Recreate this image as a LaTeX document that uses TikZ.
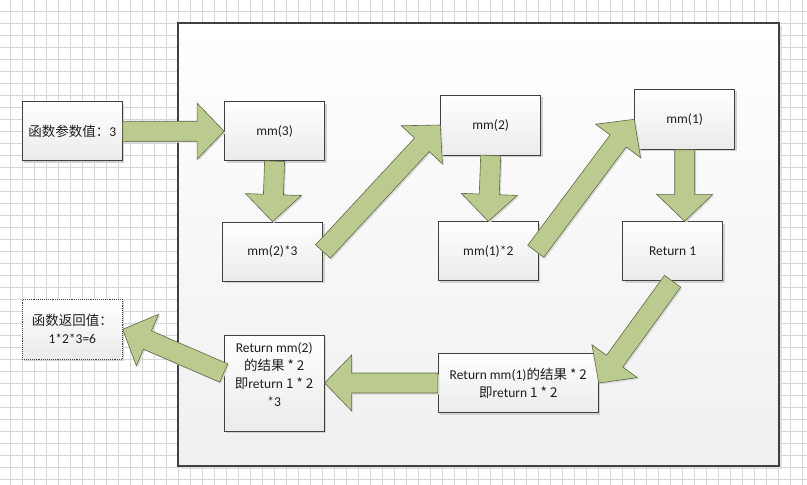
\documentclass[tikz,border=0pt]{standalone}
\usepackage{fontspec}
\setmainfont{Carlito}
\newfontfamily\cjk{Noto Sans CJK SC}
\usetikzlibrary{calc,shadows}
\definecolor{arrowfill}{RGB}{187,202,143}
\definecolor{arrowline}{RGB}{95,105,70}
\definecolor{gridc}{RGB}{214,214,214}
\definecolor{boxline}{RGB}{64,64,64}
\definecolor{txt}{RGB}{30,30,30}
\tikzset{
  boxnode/.style={draw=boxline, line width=0.9pt, top color=white, bottom color=black!8,
    minimum width=100pt, minimum height=60pt, inner sep=2pt, align=center, text=txt,
    font=\fontsize{13.5}{18}\selectfont,
    drop shadow={shadow xshift=2pt, shadow yshift=-2pt, fill=black!18, opacity=1}},
  blkarrow/.style={draw=arrowline, line width=0.6pt, fill=arrowfill, line join=miter,
    drop shadow={shadow xshift=1.5pt, shadow yshift=-1.5pt, fill=black!15, opacity=1}}
}
\newcommand{\blk}[2]{%
  \coordinate (bkN) at ($(#2)!27pt!(#1)$);
  \draw[blkarrow] ($(#1)!10pt!90:(#2)$) -- ($(bkN)!10pt!90:(#2)$) -- ($(bkN)!28pt!90:(#2)$)
    -- (#2) -- ($(bkN)!28pt!-90:(#2)$) -- ($(bkN)!10pt!-90:(#2)$) -- ($(#1)!10pt!-90:(#2)$) -- cycle;
}
\begin{document}
\begin{tikzpicture}[x=1pt,y=-1pt]
\useasboundingbox (0,0) rectangle (807,485);
\fill[white] (0,0) rectangle (807,485);
% grid
\foreach \i in {0,...,66} \draw[gridc, line width=0.9pt] ({10.7+12*\i},0) -- ({10.7+12*\i},485);
\foreach \j in {0,...,39} \draw[gridc, line width=0.9pt] (0,{11.3+12*\j}) -- (807,{11.3+12*\j});
% container
\node[draw=boxline, line width=1.1pt, top color=white, bottom color=black!6, inner sep=0pt,
  minimum width=601pt, minimum height=443pt,
  drop shadow={shadow xshift=3pt, shadow yshift=-3pt, fill=black!12, opacity=1}] (frame) at (478.5,244.5) {};
% boxes
\node[boxnode, minimum height=59pt] (in) at (72.3,131.3) {{\cjk 函数参数值：}3};
\node[boxnode, minimum height=59pt] (mm3) at (274.6,131.2) {mm(3)};
\node[boxnode, minimum height=59pt] (m23) at (272.5,251.5) {mm(2)*3};
\node[boxnode] (mm2) at (490.7,125) {mm(2)};
\node[boxnode, minimum height=59pt] (m12) at (488.3,251.3) {mm(1)*2};
\node[boxnode] (mm1) at (684.7,119.3) {mm(1)};
\node[boxnode, minimum height=59pt] (r1) at (672.6,251.3) {Return 1};
\node[boxnode, minimum width=160pt, minimum height=59.4pt] (rm1) at (518.3,383)
  {Return mm(1){\cjk 的结果 * 2}\\{\cjk 即}return {\cjk 1 * 2}};
\node[boxnode, minimum height=96pt] (rm2) at (274.2,383)
  {Return mm(2)\\{\cjk 的结果 * 2}\\{\cjk 即}return {\cjk 1 * 2}\\*3\\[-2pt]\rule{0pt}{0pt}};
\node[boxnode, densely dotted, line width=0.8pt] (out) at (72.3,329.3)
  {{\cjk 函数返回值：}\\1*2*3=6};
% helper coordinates
\coordinate (t5) at ([xshift=-3pt]m12.east);
\coordinate (h6) at (mm1.south |- r1.north);
\coordinate (t9) at ([yshift=10pt]rm2.west);
% block arrows
\blk{in.east}{mm3.west}
\blk{mm3.south}{m23.north}
\blk{m23.east}{mm2.west}
\blk{mm2.south}{m12.north}
\blk{t5}{mm1.west}
\blk{mm1.south}{h6}
\blk{r1.south}{rm1.east}
\blk{rm1.west}{rm2.east}
\blk{t9}{out.east}
\end{tikzpicture}
\end{document}
